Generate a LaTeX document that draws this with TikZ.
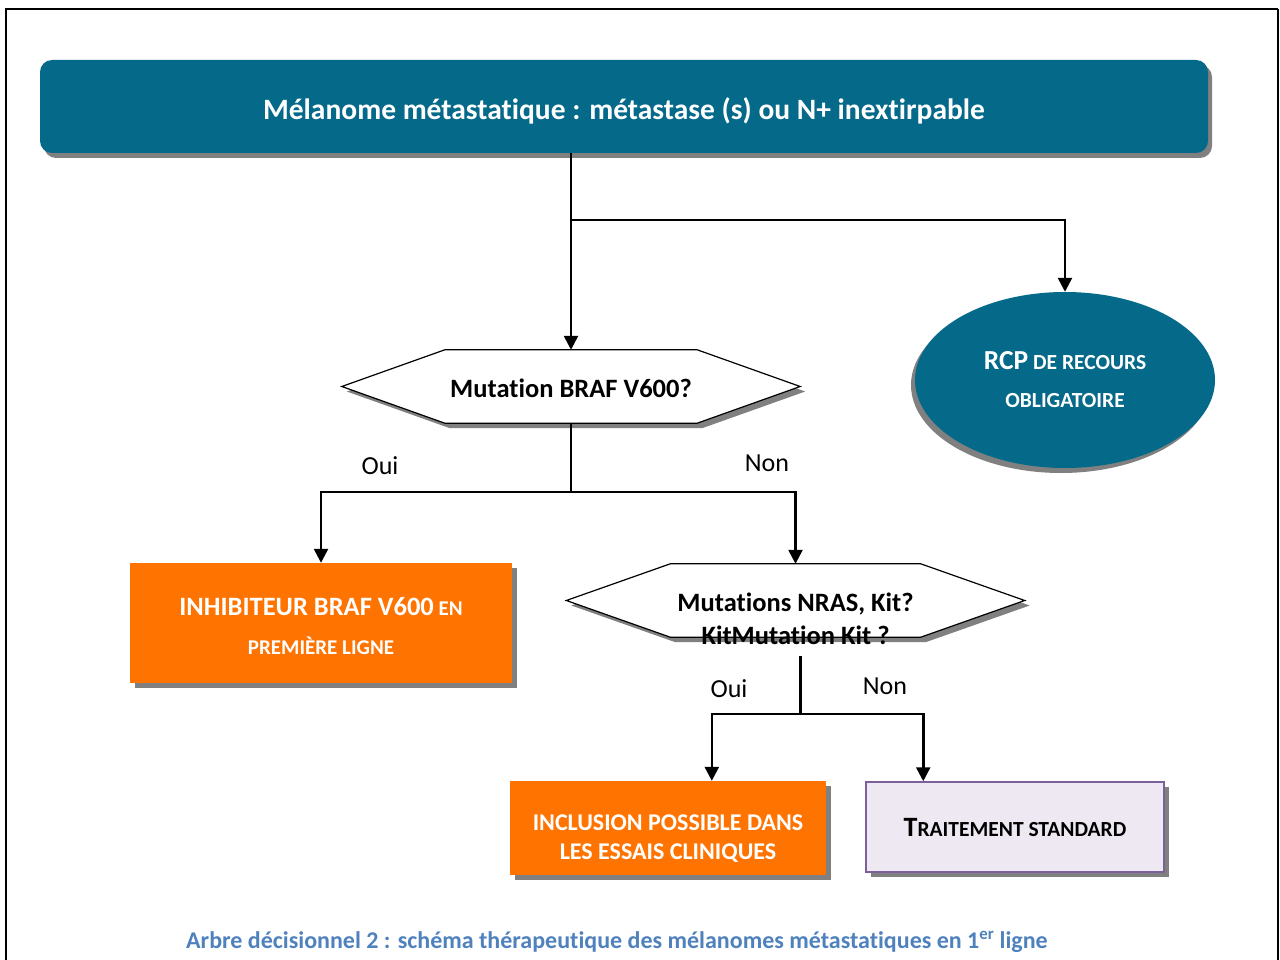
\documentclass[tikz,border=0pt]{standalone}
\usepackage{fontspec}
\setmainfont{Carlito}[Ligatures=NoCommon]
\usetikzlibrary{arrows.meta,shadows,shapes.geometric,calc,backgrounds}

\definecolor{bannerteal}{HTML}{05698A}
\definecolor{boxorange}{HTML}{FF7300}
\definecolor{shadowgray}{HTML}{808080}
\definecolor{lavender}{HTML}{EEE8F2}
\definecolor{plum}{HTML}{7D5F9A}
\definecolor{captionblue}{HTML}{4F81BD}

\newcommand\fs[1]{\fontsize{#1}{#1}\selectfont}

\begin{document}
\begin{tikzpicture}[x=1pt,y=-1pt,
  conn/.style={line width=2.5pt,draw=black},
  arr/.style={conn,-{Triangle[width=14pt,length=14pt]}},
  shade/.style={drop shadow={shadow xshift=#1,shadow yshift=-5pt,fill=shadowgray,opacity=1}},
  shade/.default=5pt,
  banner/.style={rectangle,rounded corners=12pt,fill=bannerteal,text=white,
    font=\bfseries\fs{29.5},inner sep=0pt,shade=4pt},
  orangebox/.style={rectangle,fill=boxorange,inner sep=0pt,shade},
  hexcore/.style={rectangle,inner sep=0pt,font=\bfseries\fs{26.5}},
  hexfill/.style={fill=white,draw=black,line width=1.2pt},
  hexshade/.style={fill=shadowgray,transform canvas={xshift=5pt,yshift=-5pt}},
  lbl/.style={font=\fs{26},inner sep=0pt},
  whitetxt/.style={text=white,font=\bfseries,align=center,inner sep=0pt}
]
\useasboundingbox (0,0) rectangle (1280,960);
\clip (0,0) rectangle (1280,960);

% page frame (open at the bottom)
\draw[line width=2.4pt] (6,980) -- (6,9) -- (1278,9);
\draw[line width=1.6pt] (1278,9) -- (1278,980);

% title banner
\node[banner,minimum width=1168,minimum height=93] (top) at (624,106.5)
  {\raisebox{-4.5pt}[\height][\depth]{Mélanome métastatique : métastase (s) ou N+ inextirpable}};

% mandatory RCP
\node[ellipse,fill=bannerteal,minimum width=300,minimum height=176,inner sep=0pt,
  shade=-4pt,whitetxt,font=\bfseries\fontsize{21.5}{38}\selectfont] (rcp) at (1065,380)
  {{\fs{27.5}RCP} DE RECOURS\\OBLIGATOIRE};

% first decision
\node[hexcore,minimum width=252,minimum height=73] (h1) at (571,386.5)
  {\raisebox{-2pt}[\height][\depth]{Mutation BRAF V600?}};

% BRAF inhibitor
\node[orangebox,minimum width=382,minimum height=120] (inhib) at (321,623) {};
\node[whitetxt,font=\bfseries\fontsize{21}{39}\selectfont] (inhibtxt) at (321,626)
  {{\fs{26.5}INHIBITEUR BRAF V600} EN\\PREMIÈRE LIGNE};

% second decision
\node[hexcore,minimum width=250,minimum height=73] (h2) at (795.5,600.5) {};
\node[hexcore,align=center,font=\bfseries\fontsize{26.5}{33}\selectfont] (h2txt) at (795.5,619)
  {Mutations NRAS, Kit?\\KitMutation Kit ?};

% clinical trials
\node[orangebox,minimum width=316,minimum height=94] (incl) at (668,828) {};
\node[whitetxt,font=\bfseries\fontsize{24}{29}\selectfont] (incltxt) at (668,839)
  {INCLUSION POSSIBLE DANS\\LES ESSAIS CLINIQUES};

% standard treatment
\node[rectangle,fill=lavender,draw=plum,line width=1.5pt,minimum width=298,minimum height=90,
  inner sep=0pt,shade,font=\bfseries\fs{21.5}] (trait) at (1015,827)
  {{\fs{28}T}RAITEMENT STANDARD};

% hexagon outlines
\begin{scope}[on background layer]
  \fill[hexshade] (h1.north west) -- (h1.north east) -- ($(h1.east)+(103,0)$) -- (h1.south east)
    -- (h1.south west) -- ($(h1.west)+(-103,0)$) -- cycle;
  \path[hexfill] (h1.north west) -- (h1.north east) -- ($(h1.east)+(103,0)$) -- (h1.south east)
    -- (h1.south west) -- ($(h1.west)+(-103,0)$) -- cycle;
  \fill[hexshade] (h2.north west) -- (h2.north east) -- ($(h2.east)+(104,0)$) -- (h2.south east)
    -- (h2.south west) -- ($(h2.west)+(-104,0)$) -- cycle;
  \path[hexfill] (h2.north west) -- (h2.north east) -- ($(h2.east)+(104,0)$) -- (h2.south east)
    -- (h2.south west) -- ($(h2.west)+(-104,0)$) -- cycle;
\end{scope}

% connectors
\coordinate (fork1) at (h1.north |- 0,220);
\draw[arr] (h1.north |- top.south) -- (h1.north);
\draw[arr] (fork1) -| (rcp.north);

\coordinate (fork2) at (h1.south |- 0,492);
\draw[conn] (h1.south) -- (fork2);
\draw[arr] (fork2) -| (inhib.north);
\draw[arr] (fork2) -| (h2.north);

\coordinate (h2out) at ($(h2.south)+(5,19)$);
\coordinate (fork3) at (h2out |- 0,714);
\draw[conn] (h2out) -- (fork3);
\draw[arr] (fork3) -| ($(incl.north west)+(202,0)$);
\draw[arr] (fork3) -| ($(trait.north west)+(58,0)$);

% branch labels
\node[lbl] (oui1) at (380,466) {Oui};
\node[lbl] (non1) at (767,463) {Non};
\node[lbl] (oui2) at (729,689) {Oui};
\node[lbl] (non2) at (885,686) {Non};

% caption
\node[font=\bfseries\fs{24},text=captionblue,inner sep=0pt] (caption) at (617,942)
  {Arbre décisionnel 2 : schéma thérapeutique des mélanomes métastatiques en 1\textsuperscript{er} ligne};
\end{tikzpicture}
\end{document}
